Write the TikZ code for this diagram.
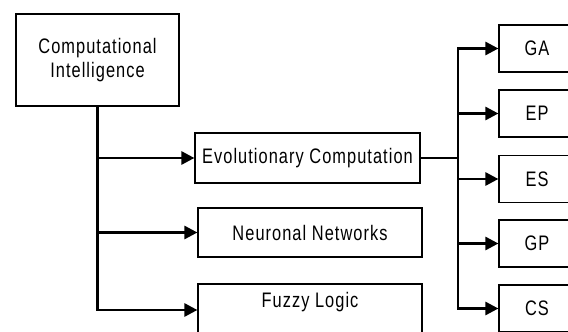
\documentclass[tikz,border=0pt]{standalone}
\usepackage{fontspec}
\setmainfont{Liberation Sans}[FakeStretch=0.78,LetterSpace=5]
\usetikzlibrary{arrows.meta}
\begin{document}
\begin{tikzpicture}[x=1pt,y=-1pt,
  box/.style={draw, line width=1.2pt, fill=white, inner sep=0pt,
    font=\fontsize{21}{24}\selectfont, align=center},
  small/.style={box, minimum width=76pt, minimum height=47pt},
  link/.style={line width=2.7pt},
  tip/.style={-{Triangle[length=13pt,width=13pt]}}]
\useasboundingbox (0,0) rectangle (568,332);
\clip (0,0) rectangle (568,332);

% main blocks
\node[box, minimum width=163pt, minimum height=92pt] (ci) at (97.5,60) {Computational\\Intelligence};
\node[box, minimum width=225pt, minimum height=50pt] (ec) at (307.5,158) {Evolutionary Computation};
\node[box, minimum width=224pt, minimum height=49pt] (nn) at (310,232.5) {Neuronal Networks};
\node[box, minimum width=224pt, minimum height=52pt,
  label={[font=\fontsize{21}{24}\selectfont, yshift=8pt]center:Fuzzy Logic}] (fl) at (310,310) {};

% evolutionary computation branches
\node[small] (ga) at (537,48.5) {GA};
\node[small] (ep) at (537,113.5) {EP};
\node[small] (es) at (537,179) {ES};
\node[small] (gp) at (537,243.5) {GP};
\node[small] (cs) at (537,308.5) {CS};

% connectors from the root
\draw[link,tip] (ci.south) |- (ec.west);
\draw[link,tip] (ci.south) |- (nn.west);
\draw[link,tip] (ci.south) |- (fl.west);

% bus on the right
\coordinate (bus) at (458,158);
\draw[link] (ec.east) -- (bus);
\draw[link,tip] (bus) |- (ga.west);
\draw[link,tip] (bus) |- (ep.west);
\draw[link,tip] (bus) |- (es.west);
\draw[link,tip] (bus) |- (gp.west);
\draw[link,tip] (bus) |- (cs.west);
\end{tikzpicture}
\end{document}
